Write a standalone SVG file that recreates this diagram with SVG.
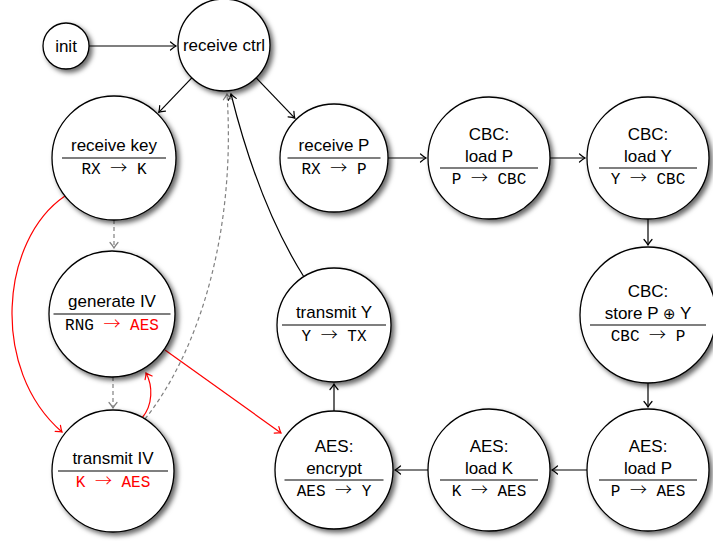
<svg xmlns="http://www.w3.org/2000/svg" width="713" height="541" viewBox="0 0 713 541">
  <style>
    .node circle { fill: #fff; stroke: #000; stroke-width: 1.3; filter: url(#shadow); }
    .t { font-family: "Liberation Sans", Arial, sans-serif; font-size: 17px; text-anchor: middle; fill: #000; }
    .m { font-family: "Liberation Mono", "Courier New", monospace; font-size: 16px; text-anchor: middle; fill: #000; }
    .ar { font-family: "Noto Sans CJK SC", "DejaVu Sans", sans-serif; font-size: 17px; font-weight: 300; }
    .op { font-family: "DejaVu Sans", sans-serif; font-size: 15px; }
    .red { fill: #f00; }
    .sep { stroke: #000; stroke-width: 1.1; }
    .e { fill: none; stroke-width: 1.2; }
    .k { stroke: #000; marker-end: url(#ahk); }
    .g { stroke: #808080; stroke-dasharray: 4 3; marker-end: url(#ahg); }
    .r { stroke: #f00; marker-end: url(#ahr); }
  </style>
  <defs>
    <filter id="shadow" x="-20%" y="-20%" width="150%" height="150%">
      <feDropShadow dx="3" dy="3" stdDeviation="2.5" flood-color="#000" flood-opacity="0.6"/>
    </filter>
    <marker id="ahk" markerUnits="userSpaceOnUse" orient="auto" overflow="visible" refX="0" refY="0">
      <path d="M-5.5,-4 Q-2,-1 0,0 Q-2,1 -5.5,4" fill="none" stroke="#000" stroke-width="1.2" stroke-linecap="round"/>
    </marker>
    <marker id="ahg" markerUnits="userSpaceOnUse" orient="auto" overflow="visible" refX="0" refY="0">
      <path d="M-5.5,-4 Q-2,-1 0,0 Q-2,1 -5.5,4" fill="none" stroke="#808080" stroke-width="1.2" stroke-linecap="round"/>
    </marker>
    <marker id="ahr" markerUnits="userSpaceOnUse" orient="auto" overflow="visible" refX="0" refY="0">
      <path d="M-5.5,-4 Q-2,-1 0,0 Q-2,1 -5.5,4" fill="none" stroke="#f00" stroke-width="1.2" stroke-linecap="round"/>
    </marker>
  </defs>

  <!-- connectors -->
  <g id="edges">
    <path class="e k" d="M89,46 L176,46"/>
    <path class="e k" d="M191.8,77.8 L158.8,112.3"/>
    <path class="e k" d="M256.2,77.8 L294.8,118.1"/>
    <path class="e k" d="M388,158 L426,158"/>
    <path class="e k" d="M550,158 L585,158"/>
    <path class="e k" d="M648,219 L648,245"/>
    <path class="e k" d="M648,383 L648,407"/>
    <path class="e k" d="M587,470 L552,470"/>
    <path class="e k" d="M428,470 L395,470"/>
    <path class="e k" d="M334,411 L334,384"/>
    <path class="e k" d="M304,277 C268,220 245,150 231,94"/>
    <path class="e g" d="M114,220 L114,248"/>
    <path class="e g" d="M113,377 L113,408"/>
    <path class="e g" d="M145,419 C200,350 236,230 227,94"/>
    <path class="e r" d="M65,196 C0,240 -10,370 62,432"/>
    <path class="e r" d="M142,418 C153,405 153,386 146,373"/>
    <path class="e r" d="M165,350 L281,433"/>
  </g>

  <g id="init" class="node">
    <circle cx="66" cy="46" r="23"/>
    <text class="t" x="66" y="52">init</text>
  </g>

  <g id="receive-ctrl" class="node">
    <circle cx="224" cy="45" r="46"/>
    <text class="t" x="224" y="51">receive ctrl</text>
  </g>

  <g id="receive-key" class="node">
    <circle cx="114" cy="158" r="62"/>
    <text class="t" x="114" y="151">receive key</text>
    <line class="sep" x1="62" y1="158" x2="166" y2="158"/>
    <text class="m" x="114" y="174">RX <tspan class="ar">→</tspan> K</text>
  </g>

  <g id="generate-iv" class="node">
    <circle cx="112" cy="314" r="63"/>
    <text class="t" x="112" y="307">generate IV</text>
    <line class="sep" x1="53.5" y1="314" x2="170.5" y2="314"/>
    <text class="m" x="112" y="330">RNG <tspan class="ar red">→</tspan> <tspan class="red">AES</tspan></text>
  </g>

  <g id="transmit-iv" class="node">
    <circle cx="113" cy="471" r="61"/>
    <text class="t" x="113" y="464">transmit IV</text>
    <line class="sep" x1="58" y1="471" x2="168" y2="471"/>
    <text class="m red" x="113" y="487">K <tspan class="ar">→</tspan> AES</text>
  </g>

  <g id="receive-p" class="node">
    <circle cx="334" cy="158" r="54"/>
    <text class="t" x="334" y="151">receive P</text>
    <line class="sep" x1="287.5" y1="158" x2="380.5" y2="158"/>
    <text class="m" x="334" y="174">RX <tspan class="ar">→</tspan> P</text>
  </g>

  <g id="transmit-y" class="node">
    <circle cx="334" cy="325" r="57"/>
    <text class="t" x="334" y="318">transmit Y</text>
    <line class="sep" x1="282" y1="325" x2="386" y2="325"/>
    <text class="m" x="334" y="341">Y <tspan class="ar">→</tspan> TX</text>
  </g>

  <g id="aes-encrypt" class="node">
    <circle cx="334" cy="470" r="59"/>
    <text class="t" x="334" y="452">AES:</text>
    <text class="t" x="334" y="474">encrypt</text>
    <line class="sep" x1="284.5" y1="480" x2="383.5" y2="480"/>
    <text class="m" x="334" y="496">AES <tspan class="ar">→</tspan> Y</text>
  </g>

  <g id="cbc-load-p" class="node">
    <circle cx="489" cy="158" r="61"/>
    <text class="t" x="489" y="140">CBC:</text>
    <text class="t" x="489" y="162">load P</text>
    <line class="sep" x1="440" y1="168" x2="538" y2="168"/>
    <text class="m" x="489" y="184">P <tspan class="ar">→</tspan> CBC</text>
  </g>

  <g id="cbc-load-y" class="node">
    <circle cx="648" cy="158" r="61"/>
    <text class="t" x="648" y="140">CBC:</text>
    <text class="t" x="648" y="162">load Y</text>
    <line class="sep" x1="599" y1="168" x2="697" y2="168"/>
    <text class="m" x="648" y="184">Y <tspan class="ar">→</tspan> CBC</text>
  </g>

  <g id="cbc-store" class="node">
    <circle cx="648" cy="315" r="68"/>
    <text class="t" x="648" y="297">CBC:</text>
    <text class="t" x="648" y="319">store P <tspan class="op">⊕</tspan> Y</text>
    <line class="sep" x1="590" y1="325" x2="706" y2="325"/>
    <text class="m" x="648" y="341">CBC <tspan class="ar">→</tspan> P</text>
  </g>

  <g id="aes-load-p" class="node">
    <circle cx="648" cy="470" r="61"/>
    <text class="t" x="648" y="452">AES:</text>
    <text class="t" x="648" y="474">load P</text>
    <line class="sep" x1="599" y1="480" x2="697" y2="480"/>
    <text class="m" x="648" y="496">P <tspan class="ar">→</tspan> AES</text>
  </g>

  <g id="aes-load-k" class="node">
    <circle cx="489" cy="470" r="61"/>
    <text class="t" x="489" y="452">AES:</text>
    <text class="t" x="489" y="474">load K</text>
    <line class="sep" x1="440" y1="480" x2="538" y2="480"/>
    <text class="m" x="489" y="496">K <tspan class="ar">→</tspan> AES</text>
  </g>
</svg>
